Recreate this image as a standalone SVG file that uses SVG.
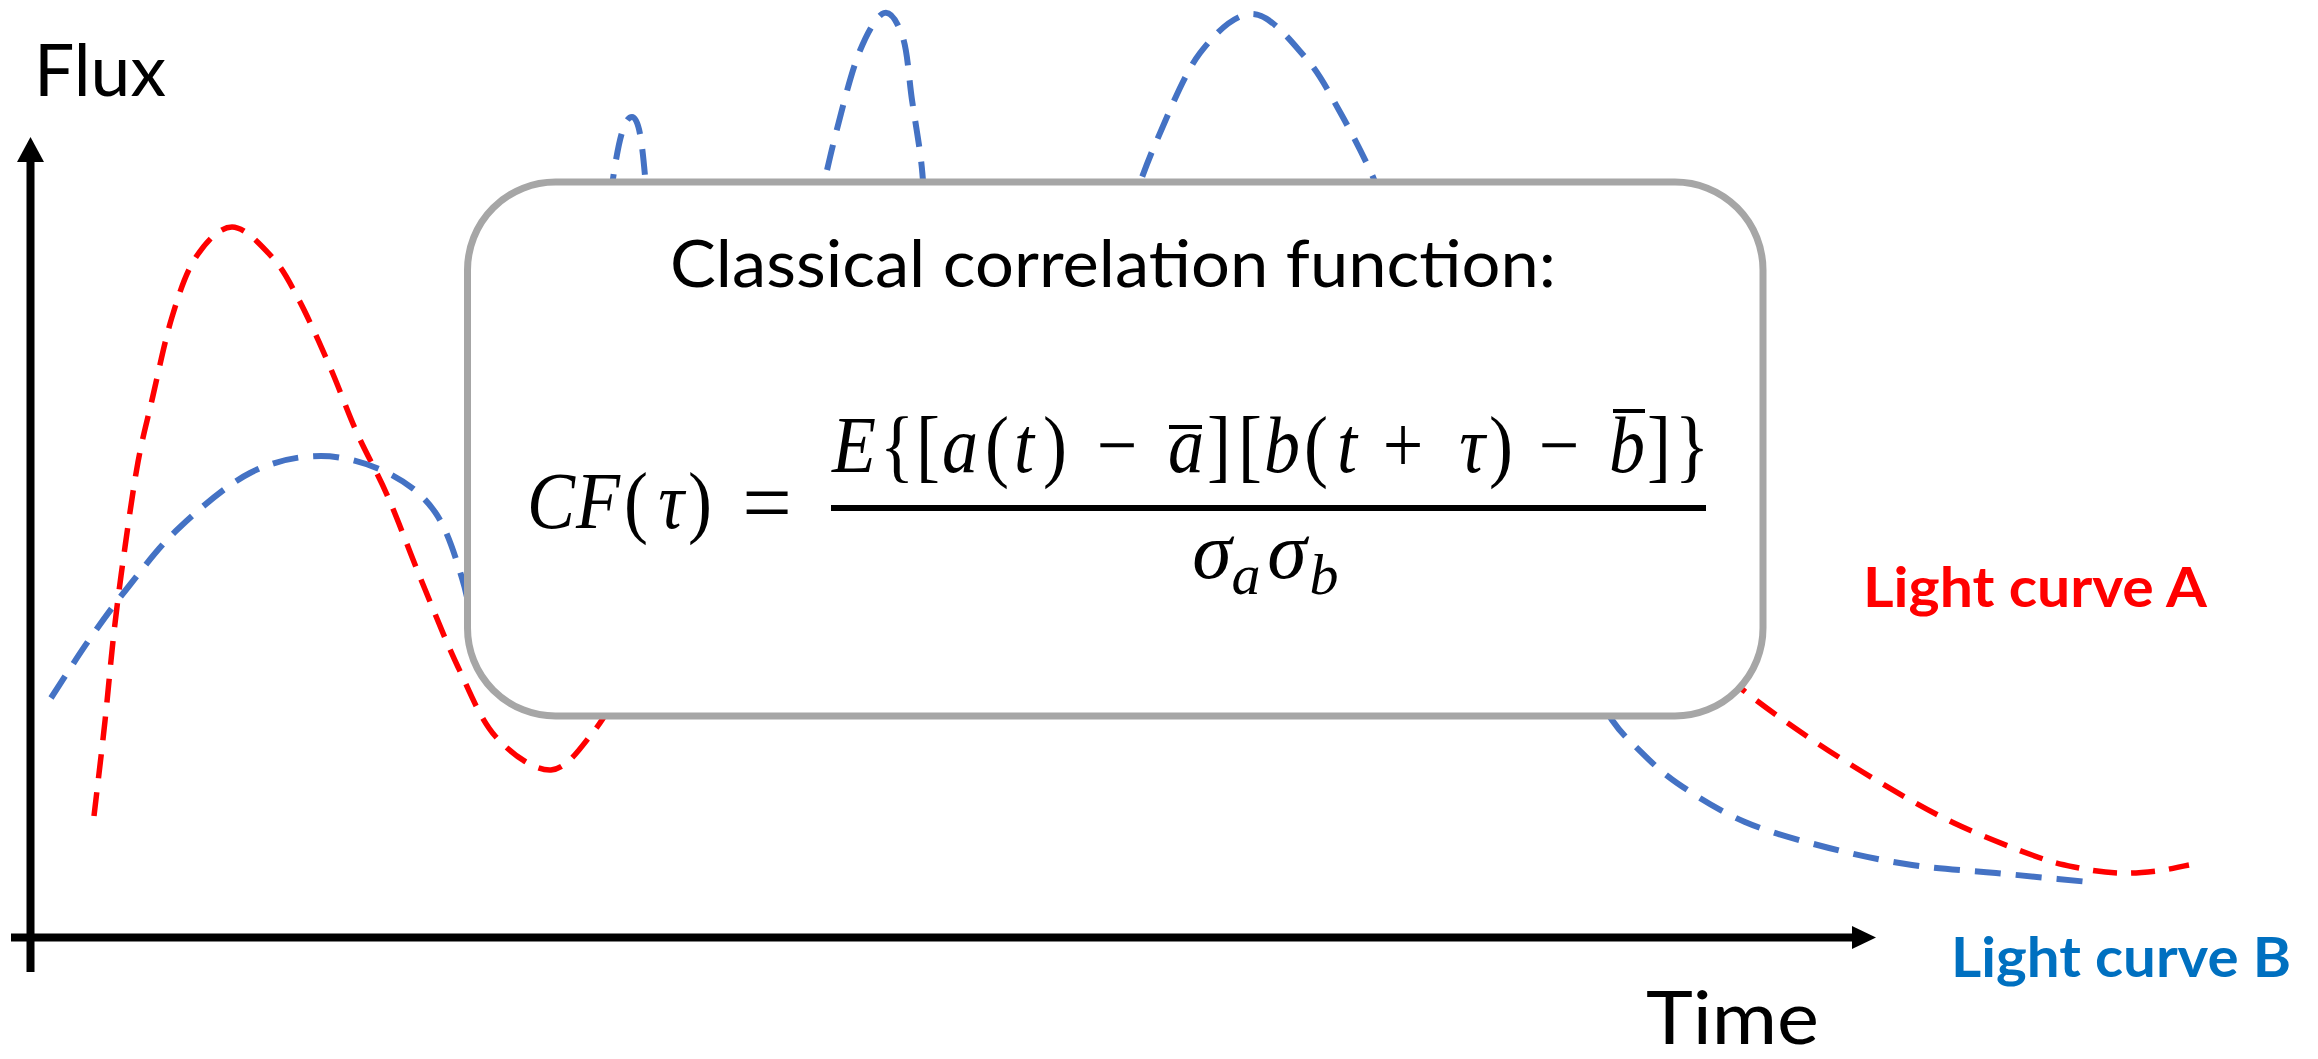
<svg xmlns="http://www.w3.org/2000/svg" width="2318" height="1059" viewBox="0 0 2318 1059">
<defs>
<style>
.axis{stroke:#000;stroke-width:8;fill:none}
.head{fill:#000}
.red{fill:none;stroke:#ff0000;stroke-width:5.5;stroke-dasharray:24 14}
.blue{fill:none;stroke:#4472c4;stroke-width:6;stroke-dasharray:26 15}
.lbl{font-family:Lato,"Open Sans","Liberation Sans",sans-serif;fill:#000}
.lc{font-family:Lato,"Open Sans","Liberation Sans",sans-serif;font-weight:bold}
.m{font-family:"Liberation Serif","DejaVu Serif",serif;fill:#000}
.mi{font-style:italic}
</style>
</defs>
<rect width="2318" height="1059" fill="#fff"/>

<g id="axes">
<line class="axis" x1="30.5" y1="972" x2="30.5" y2="158"/>
<polygon class="head" points="30.5,137 17,162 44,162"/>
<line class="axis" x1="11" y1="937.5" x2="1856" y2="937.5"/>
<polygon class="head" points="1876,937.5 1852,926 1852,949"/>
</g>

<g id="curves">
<path id="curveA-left" class="red" d="M94,816 C97.7,784.3 101.7,751.7 105,721 S110.7,661 114,632 S121,575.3 125,547 S133.5,486.5 138,462 S146.3,424.2 152,400 S164.7,340.8 172,317 S186,272 196,257 S219.3,227 232,227 S260.8,244.8 272,257 S289.3,281.7 299,300 S320.3,344.8 330,367 S347.3,411.3 357,433 S377.2,472.2 388,497 S410.3,553.7 422,582 S445.7,641.2 458,667 S480.5,719.8 496,737 S534.7,771 551,770 S581.7,746 594,731 S614.7,697 625,680"/>
<path id="curveA-right" class="red" d="M1700,650 C1714.3,663.3 1725,675.5 1743,690 S1785,721.5 1808,737 S1856.7,768.7 1881,783 S1928.8,811 1954,823 S2012,847.7 2032,855 S2059.7,864 2074,867 S2104.2,872.3 2118,873 S2145.2,872.3 2157,871 S2178.3,867 2189,865"/>
<path id="curveB-left" class="blue" d="M51,698 C63.7,678.7 76,658.7 89,640 S114,604.7 129,586 S158.8,546.8 179,528 S226.3,485 250,473 S298,456 321,456 S369,463.7 388,473 S422.7,494.5 435,512 S455.3,556.7 462,578 S470.7,619.3 475,640"/>
<path id="curveB-peak1" class="blue" d="M610,200 C618,140 624,117 632,117 C640,117 643,150 647,200"/>
<path id="curveB-peak2" class="blue" d="M818,210 C824,184.3 829.2,159.2 836,133 S851,73 859,53 S876.7,15.5 884,13 S898.3,23.5 903,38 S909,79.7 912,100 S918.8,141.7 921,160 S923.7,193.3 925,210"/>
<path id="curveB-peak3" class="blue" d="M1128,215 C1137.7,190 1145,167 1157,140 S1184,74 1200,53 S1235.5,13.3 1253,14 S1290.5,40.7 1305,57 S1328.7,92 1340,112 S1365.5,159.8 1373,177 S1381,202.3 1385,215"/>
<path id="curveB-right" class="blue" d="M1590,680 C1597.3,693.3 1604.3,708.8 1612,720 S1625.2,736.5 1636,747 S1658.8,770.5 1677,783 S1719.7,811.2 1745,822 S1801.2,840.8 1829,848 S1884.2,860.8 1912,865 S1966.5,870.2 1996,873 S2058,879 2089,882"/>
</g>

<g id="formula-box">
<rect x="467.5" y="182" width="1295.5" height="534" rx="88" ry="88" fill="#fff" stroke="#a6a6a6" stroke-width="7"/>
<text class="lbl" x="1113" y="287" font-size="66" text-anchor="middle" textLength="886" lengthAdjust="spacingAndGlyphs">Classical correlation function:</text>
<g transform="scale(0.9,1)">
<text class="m" y="528" font-size="80" text-anchor="middle"><tspan class="mi" x="612.2">C</tspan><tspan class="mi" x="664.4">F</tspan><tspan x="706.7">(</tspan><tspan class="mi" x="745.6">τ</tspan><tspan x="777.8">)</tspan></text>
<text class="m" y="472" font-size="80" text-anchor="middle"><tspan class="mi" x="948.9">E</tspan><tspan x="996.7">{</tspan><tspan x="1031.1">[</tspan><tspan class="mi" x="1066.7">a</tspan><tspan x="1107.8">(</tspan><tspan class="mi" x="1137.8">t</tspan><tspan x="1172.2">)</tspan><tspan x="1241.1">−</tspan><tspan class="mi" x="1317.8">a</tspan><tspan x="1354.4">]</tspan><tspan x="1388.9">[</tspan><tspan class="mi" x="1424.4">b</tspan><tspan x="1462.2">(</tspan><tspan class="mi" x="1496.7">t</tspan><tspan x="1558.9">+</tspan><tspan class="mi" x="1635.6">τ</tspan><tspan x="1667.8">)</tspan><tspan x="1732.2">−</tspan><tspan class="mi" x="1807.8">b</tspan><tspan x="1843.3">]</tspan><tspan x="1880">}</tspan></text>
</g>
<text class="m" x="767" y="532" font-size="88" text-anchor="middle">=</text>
<rect x="1169" y="425" width="33" height="4" fill="#000"/>
<rect x="1613" y="409" width="32" height="4" fill="#000"/>
<rect x="831" y="505" width="875" height="6" fill="#000"/>
<text class="m mi" y="578" font-size="80" text-anchor="middle"><tspan x="1212">σ</tspan><tspan x="1287">σ</tspan></text>
<text class="m mi" y="594" font-size="58" text-anchor="middle"><tspan x="1246">a</tspan><tspan x="1324">b</tspan></text>
</g>

<g id="labels">
<text id="flux" class="lbl" x="34" y="96" font-size="71" textLength="132" lengthAdjust="spacingAndGlyphs">Flux</text>
<text id="time" class="lbl" x="1646" y="1044" font-size="74" textLength="173" lengthAdjust="spacingAndGlyphs">Time</text>
<text id="labelA" class="lc" x="1863" y="607" font-size="56" fill="#ff0000" textLength="344" lengthAdjust="spacingAndGlyphs">Light curve A</text>
<text id="labelB" class="lc" x="1951" y="977" font-size="56" fill="#0070c0" textLength="340" lengthAdjust="spacingAndGlyphs">Light curve B</text>
</g>
</svg>
